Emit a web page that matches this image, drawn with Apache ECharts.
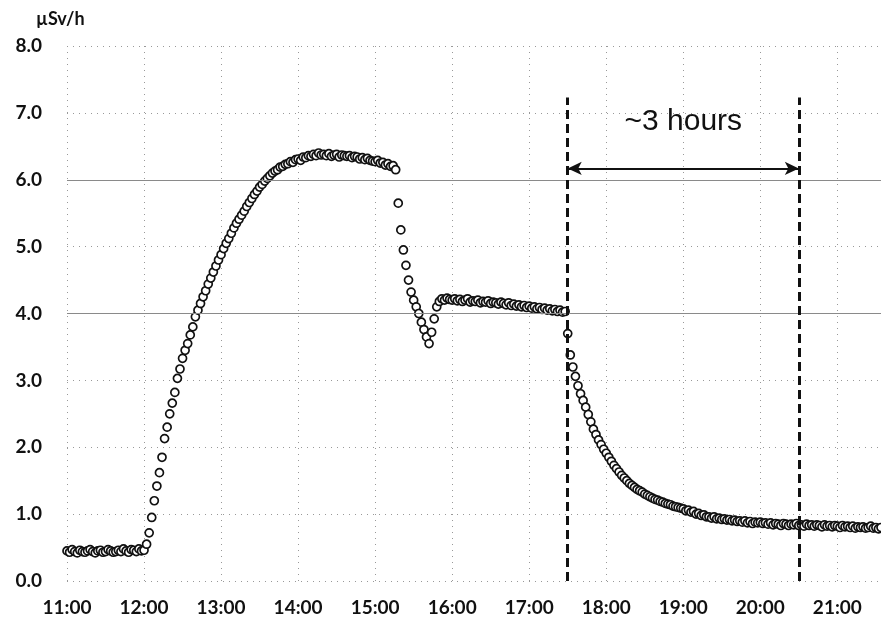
<!DOCTYPE html>
<html>
<head>
<meta charset="utf-8">
<title>Dose rate</title>
<script src="https://cdn.jsdelivr.net/npm/echarts@6/dist/echarts.min.js"></script>
<style>
  html, body { margin: 0; padding: 0; background: #fff; }
  #chart { width: 881px; height: 625px; }
</style>
</head>
<body>
<div id="chart"></div>
<script>
// tick labels, one per hour from 11:00
const hourLabels = ['11:00', '12:00', '13:00', '14:00', '15:00', '16:00', '17:00', '18:00', '19:00', '20:00', '21:00']

// readings every 2 minutes from 11:00 (µSv/h)
const stepMinutes = 2
const doseRate = [
  0.45, 0.43, 0.47, 0.44, 0.42, 0.46, 0.44, 0.43, 0.45, 0.47,
  0.44, 0.42, 0.45, 0.46, 0.43, 0.44, 0.47, 0.45, 0.43, 0.44,
  0.46, 0.44, 0.48, 0.45, 0.43, 0.47, 0.46, 0.44, 0.48, 0.45,
  0.46, 0.55, 0.72, 0.95, 1.20, 1.42, 1.62, 1.85, 2.13, 2.30,
  2.50, 2.66, 2.82, 3.03, 3.17, 3.33, 3.45, 3.55, 3.68, 3.80,
  3.95, 4.05, 4.15, 4.25, 4.34, 4.44, 4.53, 4.62, 4.71, 4.80,
  4.88, 4.97, 5.05, 5.12, 5.20, 5.28, 5.35, 5.41, 5.47, 5.53,
  5.60, 5.66, 5.72, 5.78, 5.83, 5.89, 5.93, 5.98, 6.02, 6.06,
  6.10, 6.13, 6.15, 6.19, 6.20, 6.23, 6.24, 6.27, 6.26, 6.30,
  6.31, 6.29, 6.34, 6.33, 6.36, 6.35, 6.38, 6.36, 6.40, 6.37,
  6.38, 6.36, 6.39, 6.35, 6.37, 6.38, 6.34, 6.37, 6.36, 6.35,
  6.36, 6.33, 6.35, 6.34, 6.31, 6.33, 6.30, 6.32, 6.29, 6.28,
  6.27, 6.29, 6.25, 6.26, 6.22, 6.24, 6.20, 6.21, 6.15, 5.65,
  5.25, 4.95, 4.72, 4.50, 4.32, 4.20, 4.10, 4.00, 3.87, 3.76,
  3.65, 3.55, 3.72, 3.92, 4.10, 4.18, 4.22, 4.20, 4.23, 4.21,
  4.20, 4.22, 4.19, 4.21, 4.18, 4.20, 4.22, 4.17, 4.19, 4.18,
  4.20, 4.16, 4.18, 4.17, 4.19, 4.15, 4.17, 4.16, 4.14, 4.17,
  4.15, 4.13, 4.16, 4.12, 4.14, 4.11, 4.13, 4.10, 4.12, 4.09,
  4.11, 4.08, 4.10, 4.07, 4.09, 4.06, 4.08, 4.05, 4.07, 4.04,
  4.06, 4.03, 4.05, 4.02, 4.03, 3.70, 3.38, 3.20, 3.06, 2.92,
  2.80, 2.70, 2.60, 2.49, 2.38, 2.27, 2.19, 2.11, 2.04, 1.97,
  1.91, 1.85, 1.79, 1.73, 1.68, 1.63, 1.58, 1.54, 1.50, 1.46,
  1.43, 1.40, 1.37, 1.35, 1.33, 1.30, 1.28, 1.26, 1.24, 1.22,
  1.21, 1.19, 1.18, 1.16, 1.15, 1.14, 1.12, 1.11, 1.10, 1.09,
  1.08, 1.05, 1.06, 1.03, 1.04, 1.00, 1.01, 0.98, 0.99, 0.96,
  0.96, 0.94, 0.96, 0.93, 0.94, 0.92, 0.93, 0.91, 0.92, 0.90,
  0.91, 0.89, 0.90, 0.88, 0.90, 0.87, 0.89, 0.86, 0.88, 0.87,
  0.88, 0.86, 0.87, 0.85, 0.87, 0.84, 0.86, 0.85, 0.83, 0.86,
  0.85, 0.83, 0.85, 0.84, 0.86, 0.83, 0.84, 0.82, 0.85, 0.83,
  0.84, 0.82, 0.84, 0.83, 0.81, 0.84, 0.82, 0.83, 0.81, 0.83,
  0.82, 0.80, 0.83, 0.81, 0.82, 0.80, 0.82, 0.79, 0.81, 0.80,
  0.81, 0.79, 0.80, 0.82, 0.79, 0.80, 0.78, 0.80
]

// minutes after 11:00 of the two dashed markers (17:30 and 20:30)
const markerMinutes = [390, 570]
const markerTop = 7.23
const arrowLevel = 6.17
const spanLabel = '~3 hours'
const unitLabel = 'µSv/h'
const strongLevels = [4, 6]

const points = doseRate.map((v, i) => [i * stepMinutes, v])

const chart = echarts.init(document.getElementById('chart'), null, { renderer: 'canvas' })

const boldFont = 'Lato, "Open Sans", sans-serif'

chart.setOption({
  backgroundColor: '#fff',
  animation: false,
  grid: { left: 67, right: 0, top: 46, bottom: 44, containLabel: false },
  graphic: [{
    type: 'text',
    left: 36,
    top: 10,
    style: { text: unitLabel, font: 'bold 18px ' + boldFont, fill: '#111' }
  }],
  xAxis: {
    type: 'value',
    min: 0,
    max: 634,
    interval: 60,
    axisLine: { show: false },
    axisTick: { show: false },
    axisLabel: {
      margin: 17,
      color: '#111',
      fontSize: 19,
      fontWeight: 'bold',
      fontFamily: boldFont,
      showMaxLabel: false,
      formatter: (v) => (v % 60 === 0 ? hourLabels[v / 60] : '')
    },
    splitLine: { show: true, lineStyle: { color: '#999', width: 1, type: [1, 5] } }
  },
  yAxis: {
    type: 'value',
    min: 0,
    max: 8,
    interval: 1,
    axisLine: { show: false },
    axisTick: { show: false },
    axisLabel: {
      margin: 25,
      color: '#111',
      fontSize: 19,
      fontWeight: 'bold',
      fontFamily: boldFont,
      formatter: (v) => v.toFixed(1)
    },
    splitLine: { show: true, lineStyle: { color: '#999', width: 1, type: [1, 5] } }
  },
  series: [
    {
      type: 'line',
      data: [],
      silent: true,
      markLine: {
        silent: true,
        symbol: 'none',
        label: { show: false },
        lineStyle: { color: '#8a8a8a', width: 1, type: 'solid' },
        data: strongLevels.map(v => ({ yAxis: v }))
      }
    },
    {
      type: 'scatter',
      data: points,
      symbol: 'circle',
      symbolSize: 8,
      itemStyle: { color: '#fff', borderColor: '#111', borderWidth: 1.7, opacity: 1 },
      z: 3
    },
    {
      type: 'line',
      data: [],
      silent: true,
      z: 4,
      markLine: {
        silent: true,
        symbol: 'none',
        label: { show: false },
        lineStyle: { color: '#111', width: 3, type: [9, 5] },
        data: markerMinutes.map(m => [{ coord: [m, 0] }, { coord: [m, markerTop] }])
      }
    },
    {
      type: 'line',
      data: [],
      silent: true,
      z: 5,
      markLine: {
        silent: true,
        symbol: ['arrow', 'arrow'],
        symbolSize: [10, 14],
        lineStyle: { color: '#111', width: 2, type: 'solid' },
        label: {
          show: true,
          position: 'middle',
          distance: 32,
          formatter: spanLabel,
          color: '#111',
          fontSize: 30,
          fontFamily: '"Liberation Sans", Arial, sans-serif'
        },
        data: [[{ coord: [markerMinutes[0], arrowLevel] }, { coord: [markerMinutes[1], arrowLevel] }]]
      }
    }
  ]
})
</script>
</body>
</html>
